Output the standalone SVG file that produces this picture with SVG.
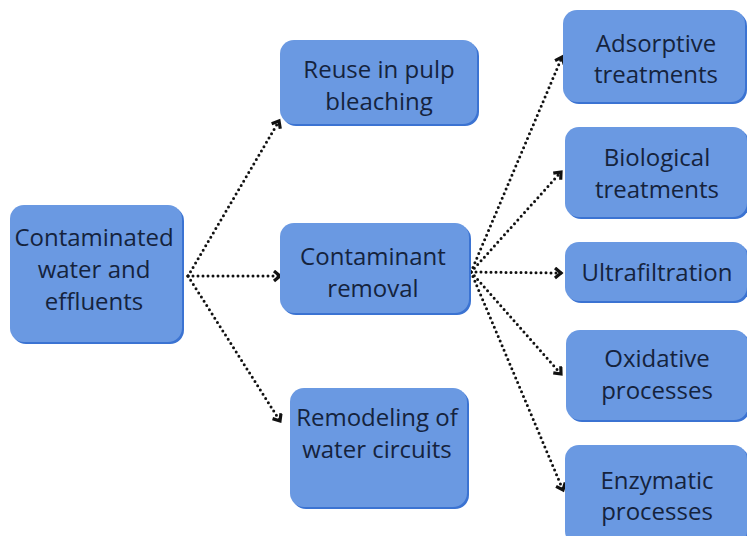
<svg xmlns="http://www.w3.org/2000/svg" width="747" height="536" viewBox="0 0 747 536">
<defs>
<style>
.sh{fill:#3b73d2}
.bx{fill:#6a99e2}
.t{font-family:"Open Sans","Noto Sans","DejaVu Sans",sans-serif;font-size:24px;fill:#15233d;text-anchor:middle}
.c{fill:none;stroke:#111;stroke-width:3;stroke-dasharray:0 5;stroke-linecap:round}
</style>
<marker id="ah" markerUnits="userSpaceOnUse" markerWidth="14" markerHeight="14" refX="8" refY="6" orient="auto">
<path d="M2,1 L8,6 L2,11" fill="none" stroke="#111" stroke-width="3.2" stroke-linejoin="miter"/>
</marker>
</defs>
<rect width="747" height="536" fill="#ffffff"/>
<g id="connectors">
<path class="c" d="M188,276 L279,121" marker-end="url(#ah)"/>
<path class="c" d="M188,276 L280,276" marker-end="url(#ah)"/>
<path class="c" d="M188,276 L280,421" marker-end="url(#ah)"/>
<path class="c" d="M471,272 L562,57" marker-end="url(#ah)"/>
<path class="c" d="M471,272 L561,172" marker-end="url(#ah)"/>
<path class="c" d="M471,272 L561,273" marker-end="url(#ah)"/>
<path class="c" d="M471,272 L561,374" marker-end="url(#ah)"/>
<path class="c" d="M471,272 L563,490" marker-end="url(#ah)"/>
</g>
<g id="n1">
<rect class="sh" x="12" y="207" width="172" height="137" rx="14"/>
<rect class="bx" x="10" y="205" width="172" height="137" rx="14"/>
<text class="t" x="94" y="246">Contaminated</text>
<text class="t" x="94" y="278">water and</text>
<text class="t" x="94" y="310">effluents</text>
</g>
<g id="n2">
<rect class="sh" x="282" y="42" width="197" height="84" rx="14"/>
<rect class="bx" x="280" y="40" width="197" height="84" rx="14"/>
<text class="t" x="379" y="78">Reuse in pulp</text>
<text class="t" x="379" y="110">bleaching</text>
</g>
<g id="n3">
<rect class="sh" x="282" y="225" width="189" height="90" rx="14"/>
<rect class="bx" x="280" y="223" width="189" height="90" rx="14"/>
<text class="t" x="373" y="265">Contaminant</text>
<text class="t" x="373" y="297">removal</text>
</g>
<g id="n4">
<rect class="sh" x="292" y="390" width="177" height="119" rx="14"/>
<rect class="bx" x="290" y="388" width="177" height="119" rx="14"/>
<text class="t" x="377" y="426">Remodeling of</text>
<text class="t" x="377" y="458">water circuits</text>
</g>
<g id="n5">
<rect class="sh" x="565" y="12" width="182" height="92" rx="14"/>
<rect class="bx" x="563" y="10" width="182" height="92" rx="14"/>
<text class="t" x="656" y="52">Adsorptive</text>
<text class="t" x="656" y="83">treatments</text>
</g>
<g id="n6">
<rect class="sh" x="567" y="129" width="182" height="90" rx="14"/>
<rect class="bx" x="565" y="127" width="182" height="90" rx="14"/>
<text class="t" x="657" y="166">Biological</text>
<text class="t" x="657" y="198">treatments</text>
</g>
<g id="n7">
<rect class="sh" x="567" y="244" width="182" height="59" rx="14"/>
<rect class="bx" x="565" y="242" width="182" height="59" rx="14"/>
<text class="t" x="657" y="281">Ultrafiltration</text>
</g>
<g id="n8">
<rect class="sh" x="568" y="332" width="182" height="90" rx="14"/>
<rect class="bx" x="566" y="330" width="182" height="90" rx="14"/>
<text class="t" x="657" y="367">Oxidative</text>
<text class="t" x="657" y="399">processes</text>
</g>
<g id="n9">
<rect class="sh" x="567" y="447" width="182" height="100" rx="14"/>
<rect class="bx" x="565" y="445" width="182" height="100" rx="14"/>
<text class="t" x="657" y="489">Enzymatic</text>
<text class="t" x="657" y="520">processes</text>
</g>
</svg>
